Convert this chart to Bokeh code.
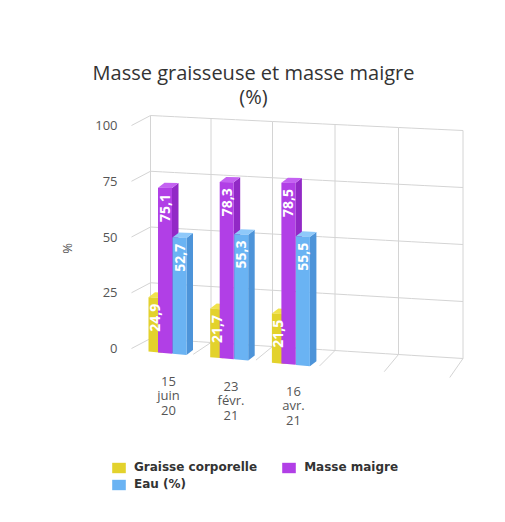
import numpy as np
from bokeh.plotting import figure
from bokeh.models import Range1d, Legend, LegendItem
from bokeh.embed import file_html
from bokeh.resources import INLINE
from bokeh.core.properties import value

# ---------------- data ----------------
categories = ["15\njuin\n20", "23\nfévr.\n21", "16\navr.\n21"]
n_slots = 5
graisse = [24.9, 21.7, 21.5]
masse_maigre = [75.1, 78.3, 78.5]
eau = [52.7, 55.3, 55.5]
series_names = ["Graisse corporelle", "Masse maigre", "Eau (%)"]
y_ticks = [0, 25, 50, 75, 100]
title_text = "Masse graisseuse et masse maigre\n(%)"
y_title = "%"

series_values = [graisse, masse_maigre, eau]

# ---------------- styles ----------------
front_col = ["#e3d22c", "#b13fe6", "#6ab3f3"]
side_col = ["#c4b31c", "#9229c6", "#4d94d9"]
top_col = ["#f1e24c", "#c462f2", "#8fc9fa"]
grid_col = "#d4d4d4"
FONT = value("Open Sans")

# ---------------- page geometry ----------------
W, H = 489, 506
OFF = 0.0  # where the canvas starts in the photographed page
PX_X, PX_Y = 62.5, 2.23
ORG_X, ORG_Y = 130.0, 348.0


def to_data(sx, sy):
    return (np.asarray(sx, float) - ORG_X) / PX_X, (ORG_Y - np.asarray(sy, float)) / PX_Y


x_start, x_end = (OFF - ORG_X) / PX_X, (OFF + W - ORG_X) / PX_X
y_end, y_start = (ORG_Y - OFF) / PX_Y, (ORG_Y - OFF - H) / PX_Y


def wall_px(c, v, d):
    c = np.asarray(c, float)
    v = np.asarray(v, float)
    fx = 131 + 61.3 * c + 0.47 * c ** 2
    fy = 348 + 5.8 * c - (2.23 + 0.01 * c) * v
    bx = 150 + 60 * c + 0.5 * c ** 2
    by = 338 + 4.0 * c - (2.23 + 0.01 * c) * v
    return fx + d * (bx - fx), fy + d * (by - fy)


def wall(c, v, d):
    return to_data(*wall_px(c, v, d))


p = figure(width=W, height=H, x_range=Range1d(x_start, x_end), y_range=Range1d(y_start, y_end),
           output_backend="svg", toolbar_location=None, title=None,
           x_axis_location=None, y_axis_location=None, min_border=0)
p.grid.visible = False
p.outline_line_color = None
p.background_fill_color = "white"

# ---------------- grid (3D frame) ----------------
gx, gy = [], []
cs = np.linspace(0, n_slots, 26)
for v in y_ticks:
    x, y = wall(cs, np.full_like(cs, v), 1.0)
    gx.append(list(x)); gy.append(list(y))
for c in range(n_slots + 1):
    x, y = wall([c, c], [0, max(y_ticks)], 1.0)
    gx.append(list(x)); gy.append(list(y))
for v in y_ticks:
    xa, ya = wall(0, v, 0.0)
    xb, yb = wall(0, v, 1.0)
    gx.append([float(xa), float(xb)]); gy.append([float(ya), float(yb)])
for c in range(1, n_slots + 1):
    xa, ya = wall(c, 0, 0.0)
    xb, yb = wall(c, 0, 1.0)
    gx.append([float(xa), float(xb)]); gy.append([float(ya), float(yb)])
p.multi_line(gx, gy, line_color=grid_col, line_width=1)

# ---------------- bars ----------------
bar_off = [-9.5, 0.0, 14.5]
bar_w = [13.0, 14.0, 14.0]
DDX, DDY = 6.5, -5.0


def group_left(g):
    return 157.5 + 61.7 * g


def bar_px(sx, v):
    base = 349.5 + 0.09 * (sx - 130)
    k = 2.2 + 0.00089 * (sx - 165)
    return sx, base - k * v


front_renderers = []
lab_x, lab_y, lab_t = [], [], []
for s, vals in enumerate(series_values):
    fxs, fys, sxs, sys_, txs, tys = [], [], [], [], [], []
    for g, v in enumerate(vals):
        a = group_left(g) + bar_off[s]
        b = a + bar_w[s]
        (ax0, ay0), (bx0, by0) = bar_px(a, 0), bar_px(b, 0)
        (ax1, ay1), (bx1, by1) = bar_px(a, v), bar_px(b, v)
        fr = to_data([ax0, bx0, bx1, ax1], [ay0, by0, by1, ay1])
        sd = to_data([bx0, bx0 + DDX, bx1 + DDX, bx1], [by0, by0 + DDY, by1 + DDY, by1])
        tp = to_data([ax1, bx1, bx1 + DDX, ax1 + DDX], [ay1, by1, by1 + DDY, ay1 + DDY])
        fxs.append(list(fr[0])); fys.append(list(fr[1]))
        sxs.append(list(sd[0])); sys_.append(list(sd[1]))
        txs.append(list(tp[0])); tys.append(list(tp[1]))
        lx, ly = to_data((a + b) / 2, (ay1 + by1) / 2 + 6)
        lab_x.append(float(lx)); lab_y.append(float(ly))
        lab_t.append(f"{v:.1f}".replace(".", ","))
    p.patches(sxs, sys_, fill_color=side_col[s], line_color=None)
    p.patches(txs, tys, fill_color=top_col[s], line_color=None)
    r = p.patches(fxs, fys, fill_color=front_col[s], line_color=None)
    front_renderers.append(r)

# data labels
p.text(lab_x, lab_y, text=lab_t, angle=np.pi / 2, text_align="right", text_baseline="middle",
       text_color="white", text_font=FONT, text_font_size="14px", text_font_style="bold")

# ---------------- axis texts ----------------
tx, ty = to_data(np.full(len(y_ticks), 117.0), [wall_px(0, v, 0.0)[1] for v in y_ticks])
p.text(list(tx), list(ty), text=[str(t) for t in y_ticks], text_align="right", text_baseline="middle",
       text_color="#555555", text_font=FONT, text_font_size="13px")

cx, cy = [], []
for g, _ in enumerate(categories):
    x, y = to_data(168 + 62.5 * g, 395 + 5 * g)
    cx.append(float(x)); cy.append(float(y))
p.text(cx, cy, text=categories, text_align="center", text_baseline="middle",
       text_color="#555555", text_font=FONT, text_font_size="13px", text_line_height=0.8)

yx, yy = to_data(66, 248)
p.text([float(yx)], [float(yy)], text=[y_title], angle=np.pi / 2, text_align="center",
       text_baseline="middle", text_color="#555555", text_font=FONT, text_font_size="13px")

ttx, tty = to_data(253, 84)
p.text([float(ttx)], [float(tty)], text=[title_text], text_align="center", text_baseline="middle",
       text_color="#333333", text_font=FONT, text_font_size="20px", text_line_height=0.9)

# ---------------- legend ----------------
common = dict(padding=0, margin=0, spacing=23, glyph_width=17, glyph_height=13, label_height=13,
              label_standoff=7, label_text_font="DejaVu Sans", label_text_font_style="bold",
              label_text_font_size="12px", label_text_color="#333333",
              border_line_alpha=0, background_fill_alpha=0)
leg1 = Legend(items=[LegendItem(label=series_names[0], renderers=[front_renderers[0]]),
                     LegendItem(label=series_names[1], renderers=[front_renderers[1]])],
              orientation="horizontal", location=(110, 32), **common)
leg2 = Legend(items=[LegendItem(label=series_names[2], renderers=[front_renderers[2]])],
              orientation="horizontal", location=(110, 15), **common)
p.add_layout(leg1)
p.add_layout(leg2)

open("out.html", "w").write(file_html(p, INLINE))
